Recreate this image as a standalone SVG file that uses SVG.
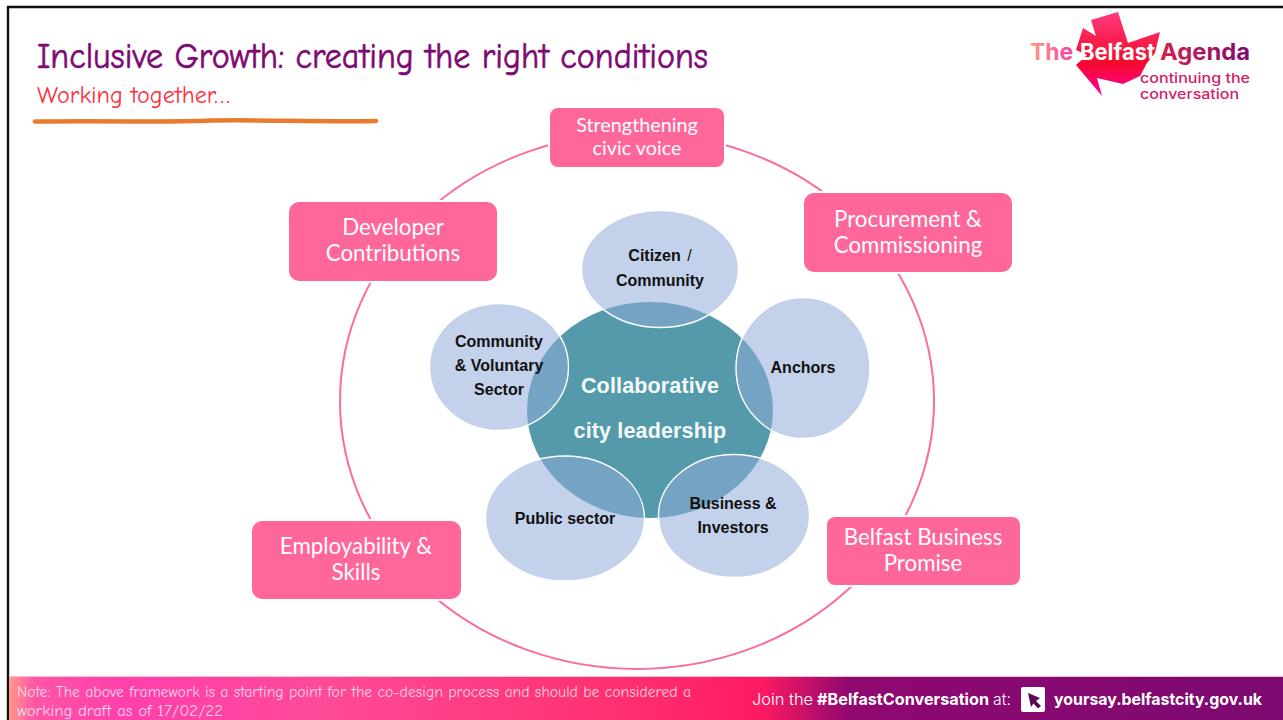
<svg xmlns="http://www.w3.org/2000/svg" width="1283" height="720" viewBox="0 0 1283 720">
<style>
.hand{font-family:"Comic Neue","Segoe Print",cursive;}
.box{fill:#ff6699;stroke:#fff;stroke-width:2}
.boxt{font-family:Lato,"Open Sans",sans-serif;font-size:22.300px;fill:#fff;text-anchor:middle}
.sat{fill:#90acd8;fill-opacity:.54;stroke:#fff;stroke-width:1.4}
.satt{font-family:"Liberation Sans",Arial,sans-serif;font-weight:700;font-size:16px;fill:#111;text-anchor:middle}
.coret{font-family:"Liberation Sans",Arial,sans-serif;font-weight:700;font-size:21.5px;letter-spacing:.15px;fill:#f4fafa;text-anchor:middle}
.ban{font-family:Inter,"Liberation Sans",sans-serif;fill:#fff}
.logo{font-family:Inter,Lato,sans-serif;font-weight:700}
</style>
<defs>
<linearGradient id="banner" x1="9" y1="0" x2="1283" y2="0" gradientUnits="userSpaceOnUse">
<stop offset="0" stop-color="#ff9a8c"/><stop offset=".02" stop-color="#ff55a5"/><stop offset=".09" stop-color="#ff40ad"/><stop offset=".25" stop-color="#ff4a98"/><stop offset=".48" stop-color="#ff3070"/><stop offset=".59" stop-color="#ff1a62"/><stop offset=".66" stop-color="#8f0870"/><stop offset="1" stop-color="#7d0a72"/>
</linearGradient>
<linearGradient id="star" x1="0" y1="0" x2="0" y2="1">
<stop offset="0" stop-color="#ff3a80"/><stop offset=".6" stop-color="#f50a28"/><stop offset="1" stop-color="#ff00a0"/>
</linearGradient>
<linearGradient id="the" x1="1030" y1="0" x2="1075" y2="0" gradientUnits="userSpaceOnUse"><stop offset="0" stop-color="#ff9e7a"/><stop offset="1" stop-color="#f73aa8"/></linearGradient>
<linearGradient id="agenda" x1="1160" y1="0" x2="1250" y2="0" gradientUnits="userSpaceOnUse"><stop offset="0" stop-color="#d8204a"/><stop offset="1" stop-color="#7d0a72"/></linearGradient>
</defs>
<rect width="1283" height="720" fill="#fff"/>
<path d="M8 720V7H1283" fill="none" stroke="#111" stroke-width="2.400"/>
<rect x="9" y="677" width="1274" height="43" fill="url(#banner)"/>
<rect x="9" y="676" width="1274" height="1" fill="#f0c0d8"/>

<text class="hand" x="37" y="68" font-size="36" fill="#7d0a72" stroke="#7d0a72" stroke-width=".6" textLength="671" lengthAdjust="spacingAndGlyphs">Inclusive Growth: creating the right conditions</text>
<text class="hand" x="37" y="103" font-size="24" fill="#ff2d3a" textLength="193" lengthAdjust="spacingAndGlyphs">Working together…</text>
<path d="M35 121.500C120 120.500 160 122.500 205 120.800S320 122.300 376 121" fill="none" stroke="#e87c2e" stroke-width="4.500" stroke-linecap="round"/>

<g id="logo">
<polygon points="1118,12 1091,20 1096,36 1083,28 1076,50 1087,55 1076,65 1102,96 1097,78 1123,84 1140,76 1147,63 1155,53 1160,32 1128,43" fill="url(#star)"/>
<text class="logo" x="1030" y="60" font-size="23" fill="url(#the)" textLength="43" lengthAdjust="spacingAndGlyphs">The</text>
<text class="logo" x="1080" y="60" font-size="23" fill="#fff" textLength="75" lengthAdjust="spacingAndGlyphs">Belfast</text>
<text class="logo" x="1160" y="60" font-size="23" fill="url(#agenda)" textLength="90" lengthAdjust="spacingAndGlyphs">Agenda</text>
<text x="1140" y="83" font-family="Inter,Lato,sans-serif" font-weight="500" font-size="13.500" fill="#d4206a" textLength="110" lengthAdjust="spacingAndGlyphs">continuing the</text>
<text x="1140" y="99" font-family="Inter,Lato,sans-serif" font-weight="500" font-size="13.500" fill="#d4206a" textLength="99" lengthAdjust="spacingAndGlyphs">conversation</text>
</g>

<g id="connectors">
<ellipse id="ring" cx="637" cy="401" rx="297" ry="268" fill="none" stroke="#fb6c9e" stroke-width="2"/>
</g>

<g id="node-strengthening"><rect class="box" x="549" y="107" width="176" height="61" rx="9"/><text class="boxt" style="font-size:19.800px" x="637" y="132">Strengthening</text><text class="boxt" style="font-size:19.800px" x="637" y="155">civic voice</text></g>
<g id="node-developer"><rect class="box" x="288" y="201" width="210" height="81" rx="11"/><text class="boxt" x="393" y="235">Developer</text><text class="boxt" x="393" y="261">Contributions</text></g>
<g id="node-procurement"><rect class="box" x="803" y="192" width="210" height="81" rx="11"/><text class="boxt" x="908" y="227">Procurement &amp;</text><text class="boxt" x="908" y="253">Commissioning</text></g>
<g id="node-employability"><rect class="box" x="251" y="520" width="211" height="80" rx="11"/><text class="boxt" x="356" y="554">Employability &amp;</text><text class="boxt" x="356" y="580">Skills</text></g>
<g id="node-promise"><rect class="box" x="826" y="516" width="195" height="70" rx="9"/><text class="boxt" x="923" y="545">Belfast Business</text><text class="boxt" x="923" y="571">Promise</text></g>

<g id="node-core"><ellipse cx="650" cy="410" rx="123" ry="108" fill="#559aaa"/></g>
<g id="node-citizen"><ellipse class="sat" cx="660" cy="269" rx="78.500" ry="58.500"/><text class="satt" x="660" y="261">Citizen <tspan font-weight="400" dx="2">/</tspan></text><text class="satt" x="660" y="286">Community</text></g>
<g id="node-community"><ellipse class="sat" cx="499" cy="367" rx="69.500" ry="63.500"/><text class="satt" x="499" y="347">Community</text><text class="satt" x="499" y="371">&amp; Voluntary</text><text class="satt" x="499" y="395">Sector</text></g>
<g id="node-anchors"><ellipse class="sat" cx="803" cy="368" rx="67" ry="70.500"/><text class="satt" x="803" y="373">Anchors</text></g>
<g id="node-public"><ellipse class="sat" cx="565" cy="518.500" rx="79.500" ry="62.500"/><text class="satt" x="565" y="524">Public sector</text></g>
<g id="node-business"><ellipse class="sat" cx="734" cy="516" rx="75.500" ry="61.500"/><text class="satt" x="733" y="509">Business &amp;</text><text class="satt" x="733" y="533">Investors</text></g>
<text class="coret" x="650" y="393">Collaborative</text>
<text class="coret" x="650" y="438">city leadership</text>

<g id="banner-text">
<text class="hand" x="17" y="697" font-size="16" fill="#fff" fill-opacity=".75" textLength="674" lengthAdjust="spacingAndGlyphs">Note: The above framework is a starting point for the co-design process and should be considered a</text>
<text class="hand" x="17" y="716" font-size="16" fill="#fff" fill-opacity=".75" textLength="206" lengthAdjust="spacingAndGlyphs">working draft as of 17/02/22</text>
<text class="ban" x="752" y="705" font-size="16.500" font-weight="300" textLength="61" lengthAdjust="spacingAndGlyphs">Join the</text>
<text class="ban" x="817" y="705" font-size="16.500" font-weight="700" textLength="172" lengthAdjust="spacingAndGlyphs">#BelfastConversation</text>
<text class="ban" x="993" y="705" font-size="16.500" font-weight="300" textLength="18" lengthAdjust="spacingAndGlyphs">at:</text>
<rect x="1021" y="687" width="24" height="25" rx="2" fill="#fff"/>
<polygon points="1028,693 1040,698 1036,701 1041,706 1038,708.500 1033.500,703.500 1031,707" fill="#5a0a55"/>
<text class="ban" x="1054" y="705" font-size="16.500" font-weight="700" textLength="208" lengthAdjust="spacingAndGlyphs">yoursay.belfastcity.gov.uk</text>
</g>
</svg>
